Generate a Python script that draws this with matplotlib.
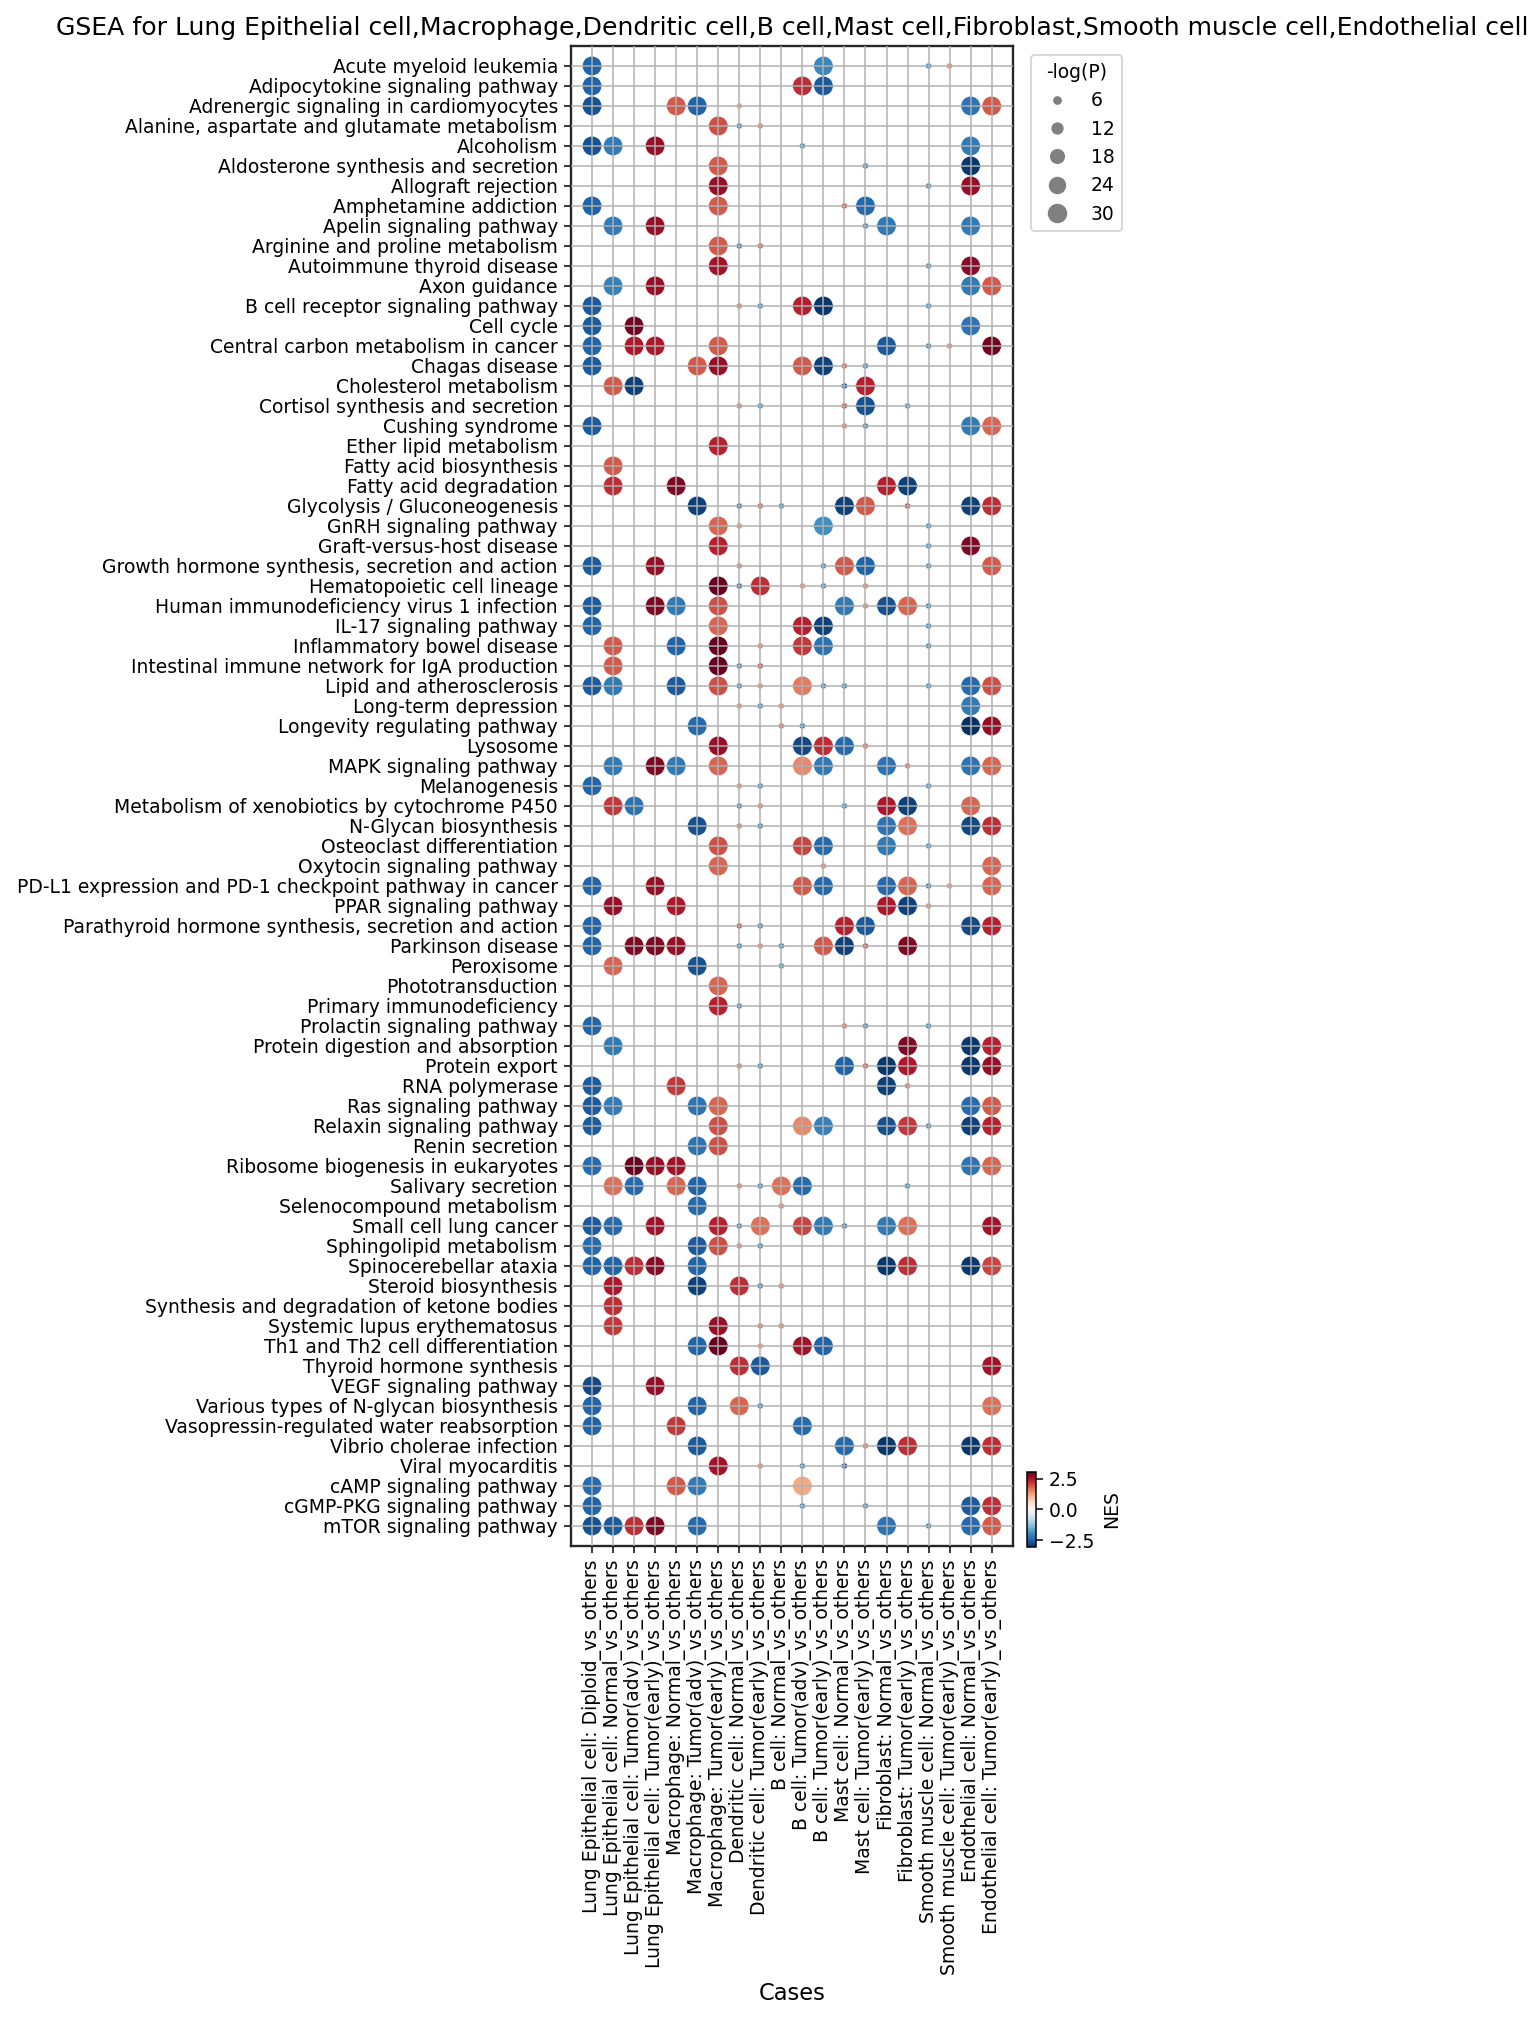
import matplotlib
matplotlib.use("Agg")
import numpy as np
import matplotlib.pyplot as plt
from matplotlib.lines import Line2D
from matplotlib.colors import Normalize
from matplotlib.cm import ScalarMappable

# ---- data -------------------------------------------------------------
CASES = [
    "Lung Epithelial cell: Diploid_vs_others",
    "Lung Epithelial cell: Normal_vs_others",
    "Lung Epithelial cell: Tumor(adv)_vs_others",
    "Lung Epithelial cell: Tumor(early)_vs_others",
    "Macrophage: Normal_vs_others",
    "Macrophage: Tumor(adv)_vs_others",
    "Macrophage: Tumor(early)_vs_others",
    "Dendritic cell: Normal_vs_others",
    "Dendritic cell: Tumor(early)_vs_others",
    "B cell: Normal_vs_others",
    "B cell: Tumor(adv)_vs_others",
    "B cell: Tumor(early)_vs_others",
    "Mast cell: Normal_vs_others",
    "Mast cell: Tumor(early)_vs_others",
    "Fibroblast: Normal_vs_others",
    "Fibroblast: Tumor(early)_vs_others",
    "Smooth muscle cell: Normal_vs_others",
    "Smooth muscle cell: Tumor(early)_vs_others",
    "Endothelial cell: Normal_vs_others",
    "Endothelial cell: Tumor(early)_vs_others",
]

PATHWAYS = [
    "Acute myeloid leukemia", "Adipocytokine signaling pathway",
    "Adrenergic signaling in cardiomyocytes",
    "Alanine, aspartate and glutamate metabolism", "Alcoholism",
    "Aldosterone synthesis and secretion", "Allograft rejection",
    "Amphetamine addiction", "Apelin signaling pathway",
    "Arginine and proline metabolism", "Autoimmune thyroid disease",
    "Axon guidance", "B cell receptor signaling pathway", "Cell cycle",
    "Central carbon metabolism in cancer", "Chagas disease",
    "Cholesterol metabolism", "Cortisol synthesis and secretion",
    "Cushing syndrome", "Ether lipid metabolism", "Fatty acid biosynthesis",
    "Fatty acid degradation", "Glycolysis / Gluconeogenesis",
    "GnRH signaling pathway", "Graft-versus-host disease",
    "Growth hormone synthesis, secretion and action",
    "Hematopoietic cell lineage", "Human immunodeficiency virus 1 infection",
    "IL-17 signaling pathway", "Inflammatory bowel disease",
    "Intestinal immune network for IgA production",
    "Lipid and atherosclerosis", "Long-term depression",
    "Longevity regulating pathway", "Lysosome", "MAPK signaling pathway",
    "Melanogenesis", "Metabolism of xenobiotics by cytochrome P450",
    "N-Glycan biosynthesis", "Osteoclast differentiation",
    "Oxytocin signaling pathway",
    "PD-L1 expression and PD-1 checkpoint pathway in cancer",
    "PPAR signaling pathway",
    "Parathyroid hormone synthesis, secretion and action",
    "Parkinson disease", "Peroxisome", "Phototransduction",
    "Primary immunodeficiency", "Prolactin signaling pathway",
    "Protein digestion and absorption", "Protein export", "RNA polymerase",
    "Ras signaling pathway", "Relaxin signaling pathway", "Renin secretion",
    "Ribosome biogenesis in eukaryotes", "Salivary secretion",
    "Selenocompound metabolism", "Small cell lung cancer",
    "Sphingolipid metabolism", "Spinocerebellar ataxia",
    "Steroid biosynthesis", "Synthesis and degradation of ketone bodies",
    "Systemic lupus erythematosus", "Th1 and Th2 cell differentiation",
    "Thyroid hormone synthesis", "VEGF signaling pathway",
    "Various types of N-glycan biosynthesis",
    "Vasopressin-regulated water reabsorption", "Vibrio cholerae infection",
    "Viral myocarditis", "cAMP signaling pathway",
    "cGMP-PKG signaling pathway", "mTOR signaling pathway",
]

# one entry per pathway: (case index, NES, -log(P))
POINTS = [
    [(0, -2.5, 30), (11, -2.0, 30), (16, -1.8, 3.0), (17, 1.4, 3.0)],
    [(0, -2.5, 30), (10, 2.3, 30), (11, -2.6, 30)],
    [(0, -2.7, 30), (4, 1.9, 30), (5, -2.5, 30), (7, 1.3, 3.0), (18, -2.3, 30), (19, 1.9, 30)],
    [(6, 2.0, 30), (7, -2.0, 3.0), (8, 1.5, 3.0)],
    [(0, -2.7, 30), (1, -2.2, 30), (3, 2.7, 30), (10, -1.8, 3.0), (18, -2.2, 30)],
    [(6, 1.9, 30), (13, -2.0, 3.0), (18, -3.0, 30)],
    [(6, 2.7, 30), (16, -1.8, 3.0), (18, 2.7, 30)],
    [(0, -2.5, 30), (6, 1.9, 30), (12, 1.9, 3.0), (13, -2.4, 30)],
    [(1, -2.2, 30), (3, 2.7, 30), (13, -2.0, 3.0), (14, -2.2, 30), (18, -2.2, 30)],
    [(6, 1.9, 30), (7, -2.2, 3.0), (8, 1.8, 3.0)],
    [(6, 2.6, 30), (16, -1.8, 3.0), (18, 2.8, 30)],
    [(1, -2.1, 30), (3, 2.7, 30), (18, -2.2, 30), (19, 1.9, 30)],
    [(0, -2.6, 30), (7, 1.5, 3.0), (8, -1.9, 3.0), (10, 2.4, 30), (11, -3.0, 30), (16, -1.8, 3.0)],
    [(0, -2.6, 30), (2, 3.0, 30), (18, -2.3, 30)],
    [(0, -2.5, 30), (2, 2.5, 30), (3, 2.5, 30), (6, 1.9, 30), (14, -2.6, 30), (16, -1.9, 3.0),
     (17, 1.4, 3.0), (19, 3.0, 30)],
    [(0, -2.6, 30), (5, 1.9, 30), (6, 2.7, 30), (10, 1.9, 30), (11, -2.9, 30), (12, 1.7, 3.0),
     (13, -2.0, 3.0)],
    [(1, 1.9, 30), (2, -2.9, 30), (12, -2.6, 3.0), (13, 2.4, 30)],
    [(7, 1.5, 3.0), (8, -1.8, 3.0), (12, 2.0, 3.0), (13, -2.7, 30), (15, -1.8, 3.0)],
    [(0, -2.6, 30), (12, 1.5, 3.0), (13, -2.0, 3.0), (18, -2.2, 30), (19, 1.8, 30)],
    [(6, 2.4, 30)],
    [(1, 1.9, 30)],
    [(1, 2.3, 30), (4, 2.9, 30), (14, 2.4, 30), (15, -2.9, 30)],
    [(5, -2.9, 30), (7, -2.2, 3.0), (8, 1.8, 3.0), (9, -1.9, 3.0), (12, -2.9, 30), (13, 1.9, 30),
     (15, 2.0, 3.0), (18, -2.9, 30), (19, 2.3, 30)],
    [(6, 1.8, 30), (7, 1.4, 3.0), (11, -1.9, 30), (16, -1.8, 3.0)],
    [(6, 2.4, 30), (16, -1.8, 3.0), (18, 2.9, 30)],
    [(0, -2.6, 30), (3, 2.7, 30), (7, 1.5, 3.0), (11, -1.9, 3.0), (12, 1.9, 30), (13, -2.5, 30),
     (16, -1.8, 3.0), (19, 1.9, 30)],
    [(6, 3.1, 30), (7, -2.4, 3.0), (8, 2.3, 30), (10, 1.4, 3.0), (11, -1.9, 3.0), (13, 1.5, 3.0)],
    [(0, -2.6, 30), (3, 2.9, 30), (4, -2.2, 30), (6, 2.0, 30), (12, -2.2, 30), (13, 1.5, 3.0),
     (14, -2.7, 30), (15, 1.8, 30), (16, -2.0, 3.0)],
    [(0, -2.5, 30), (6, 1.8, 30), (10, 2.4, 30), (11, -2.9, 30), (16, -1.9, 3.0)],
    [(1, 1.9, 30), (4, -2.5, 30), (6, 3.1, 30), (8, 1.5, 3.0), (10, 2.2, 30), (11, -2.3, 30),
     (16, -1.9, 3.0)],
    [(1, 1.9, 30), (6, 3.1, 30), (7, -2.0, 3.0), (8, 2.0, 3.0)],
    [(0, -2.6, 30), (1, -2.2, 30), (4, -2.6, 30), (6, 2.0, 30), (7, -1.9, 3.0), (8, 1.3, 3.0),
     (10, 1.6, 30), (11, -2.0, 3.0), (12, -2.0, 3.0), (16, -1.8, 3.0), (18, -2.4, 30), (19, 2.0, 30)],
    [(7, 1.4, 3.0), (8, -1.9, 3.0), (9, 1.4, 3.0), (18, -2.2, 30)],
    [(5, -2.4, 30), (9, 1.6, 3.0), (10, -2.1, 3.0), (18, -3.1, 30), (19, 2.7, 30)],
    [(6, 2.7, 30), (10, -2.8, 30), (11, 2.3, 30), (12, -2.4, 30), (13, 1.6, 3.0)],
    [(1, -2.2, 30), (3, 2.9, 30), (4, -2.2, 30), (6, 1.8, 30), (10, 1.5, 30), (11, -2.2, 30),
     (14, -2.3, 30), (15, 1.6, 3.0), (18, -2.3, 30), (19, 1.8, 30)],
    [(0, -2.5, 30), (7, 1.4, 3.0), (8, -1.9, 3.0), (16, -1.8, 3.0)],
    [(1, 2.2, 30), (2, -2.3, 30), (7, -2.0, 3.0), (8, 1.5, 3.0), (12, -2.0, 3.0), (14, 2.5, 30),
     (15, -2.9, 30), (18, 1.8, 30)],
    [(5, -2.7, 30), (7, 1.5, 3.0), (8, -2.0, 3.0), (14, -2.3, 30), (15, 1.7, 30), (18, -2.8, 30),
     (19, 2.3, 30)],
    [(6, 2.0, 30), (10, 2.1, 30), (11, -2.4, 30), (14, -2.2, 30), (16, -1.8, 3.0)],
    [(6, 1.8, 30), (11, 1.5, 3.0), (19, 1.8, 30)],
    [(0, -2.5, 30), (3, 2.7, 30), (10, 1.9, 30), (11, -2.4, 30), (14, -2.4, 30), (15, 1.8, 30),
     (16, -2.1, 3.0), (17, 1.4, 3.0), (19, 1.8, 30)],
    [(1, 2.7, 30), (4, 2.5, 30), (14, 2.5, 30), (15, -2.9, 30), (16, 1.5, 3.0)],
    [(0, -2.5, 30), (7, 2.0, 3.0), (8, -2.0, 3.0), (12, 2.4, 30), (13, -2.6, 30), (18, -2.8, 30),
     (19, 2.4, 30)],
    [(0, -2.5, 30), (2, 2.9, 30), (3, 2.9, 30), (4, 2.7, 30), (7, -2.0, 3.0), (8, 1.4, 3.0),
     (9, -2.0, 3.0), (11, 1.9, 30), (12, -2.9, 30), (13, 2.0, 3.0), (15, 2.9, 30)],
    [(1, 1.8, 30), (5, -2.7, 30), (9, -1.8, 3.0)],
    [(6, 1.8, 30)],
    [(6, 2.4, 30), (7, -2.0, 3.0)],
    [(0, -2.5, 30), (12, 1.6, 3.0), (13, -1.9, 3.0), (16, -1.9, 3.0)],
    [(1, -2.2, 30), (15, 2.9, 30), (18, -3.0, 30), (19, 2.4, 30)],
    [(7, 1.5, 3.0), (8, -2.0, 3.0), (12, -2.5, 30), (13, 1.9, 3.0), (14, -3.0, 30), (15, 2.5, 30),
     (18, -3.0, 30), (19, 2.7, 30)],
    [(0, -2.6, 30), (4, 2.2, 30), (14, -2.9, 30), (15, 1.6, 3.0)],
    [(0, -2.6, 30), (1, -2.2, 30), (5, -2.3, 30), (6, 1.8, 30), (18, -2.4, 30), (19, 1.9, 30)],
    [(0, -2.6, 30), (6, 2.0, 30), (10, 1.5, 30), (11, -2.1, 30), (14, -2.7, 30), (15, 2.2, 30),
     (16, -1.9, 3.0), (18, -2.9, 30), (19, 2.4, 30)],
    [(5, -2.3, 30), (6, 2.0, 30)],
    [(0, -2.4, 30), (2, 3.1, 30), (3, 2.7, 30), (4, 2.6, 30), (18, -2.3, 30), (19, 1.8, 30)],
    [(1, 1.7, 30), (2, -2.4, 30), (4, 1.8, 30), (5, -2.5, 30), (7, 1.6, 3.0), (8, -2.0, 3.0),
     (9, 1.7, 30), (10, -2.4, 30), (15, -2.0, 3.0)],
    [(5, -2.4, 30), (9, 1.5, 3.0)],
    [(0, -2.6, 30), (1, -2.4, 30), (3, 2.6, 30), (6, 2.4, 30), (7, -2.1, 3.0), (8, 1.7, 30),
     (10, 2.1, 30), (11, -2.2, 30), (12, -2.1, 3.0), (14, -2.2, 30), (15, 1.7, 30), (19, 2.6, 30)],
    [(0, -2.4, 30), (5, -2.6, 30), (6, 2.0, 30), (7, 1.5, 3.0), (8, -2.1, 3.0)],
    [(0, -2.5, 30), (1, -2.5, 30), (2, 2.3, 30), (3, 2.8, 30), (5, -2.5, 30), (14, -3.0, 30),
     (15, 2.3, 30), (18, -3.0, 30), (19, 2.1, 30)],
    [(1, 2.5, 30), (5, -2.9, 30), (7, 2.3, 30), (8, -2.1, 3.0), (9, 1.5, 3.0)],
    [(1, 2.3, 30)],
    [(1, 2.2, 30), (6, 2.7, 30), (8, 1.6, 3.0), (9, 1.5, 3.0)],
    [(5, -2.5, 30), (6, 3.1, 30), (8, 1.3, 3.0), (10, 2.6, 30), (11, -2.5, 30)],
    [(7, 2.3, 30), (8, -2.6, 30), (19, 2.6, 30)],
    [(0, -2.8, 30), (3, 2.7, 30)],
    [(0, -2.5, 30), (5, -2.5, 30), (7, 1.8, 30), (8, -2.1, 3.0), (19, 1.7, 30)],
    [(0, -2.5, 30), (4, 2.2, 30), (10, -2.4, 30)],
    [(5, -2.6, 30), (12, -2.4, 30), (13, 1.6, 3.0), (14, -3.0, 30), (15, 2.3, 30), (18, -3.0, 30),
     (19, 2.3, 30)],
    [(6, 2.6, 30), (8, 1.5, 3.0), (10, -2.0, 3.0), (12, -2.6, 3.0)],
    [(0, -2.4, 30), (4, 1.9, 30), (5, -2.2, 30), (10, 1.2, 30)],
    [(0, -2.5, 30), (10, -2.0, 3.0), (13, -1.9, 3.0), (18, -2.6, 30), (19, 2.3, 30)],
    [(0, -2.7, 30), (1, -2.6, 30), (2, 2.3, 30), (3, 2.9, 30), (5, -2.4, 30), (14, -2.3, 30),
     (16, -2.0, 3.0), (18, -2.4, 30), (19, 1.9, 30)],
]

SIZE_TICKS = [6, 12, 18, 24, 30]
NES_TICKS = [-2.5, 0.0, 2.5]
NES_LIM = 3.1
SIZE_SCALE = 3.6   # marker area (pt^2) per unit of -log(P)

TITLE = ("GSEA for Lung Epithelial cell,Macrophage,Dendritic cell,B cell,"
         "Mast cell,Fibroblast,Smooth muscle cell,Endothelial cell")

# ---- figure -----------------------------------------------------------
DPI = 135
fig = plt.figure(figsize=(1540 / DPI, 2024 / DPI), dpi=DPI)
ax = fig.add_axes([0.3708, 0.2362, 0.2868, 0.7411])

xs, ys, nes, logp = [], [], [], []
for row, pts in enumerate(POINTS):
    for col, v, p in pts:
        xs.append(col)
        ys.append(row)
        nes.append(v)
        logp.append(p)

norm = Normalize(vmin=-NES_LIM, vmax=NES_LIM)
ax.scatter(xs, ys, c=nes, s=np.array(logp) * SIZE_SCALE, cmap="RdBu_r",
           norm=norm, edgecolors="white", linewidths=0.3, zorder=1)

ax.set_xticks(range(len(CASES)))
ax.set_xticklabels(CASES, rotation=90)
ax.set_yticks(range(len(PATHWAYS)))
ax.set_yticklabels(PATHWAYS)
ax.set_xlim(-1, len(CASES))
ax.set_ylim(len(PATHWAYS), -1)
ax.tick_params(labelsize=10)

ax.grid(True, color="#b0b0b0", linewidth=0.8)
ax.set_axisbelow(False)
for sp in ax.spines.values():
    sp.set_linewidth(1.25)
    sp.set_color("#262626")

ax.set_title(TITLE, fontsize=13.4)
ax.set_xlabel("Cases", fontsize=12)

# size legend, same area mapping as the scatter
handles = [Line2D([], [], ls="", marker="o", color="gray", markeredgewidth=0,
                  markersize=np.sqrt(v * SIZE_SCALE)) for v in SIZE_TICKS]
ax.legend(handles, [str(v) for v in SIZE_TICKS], title="-log(P)",
          loc="upper left", bbox_to_anchor=(1.02, 1), fontsize=10)

# colour bar
cax = fig.add_axes([0.6669, 0.2355, 0.0057, 0.0374])
cb = fig.colorbar(ScalarMappable(norm=norm, cmap="RdBu_r"), cax=cax, ticks=NES_TICKS)
cb.set_label("NES")
cb.ax.tick_params(labelsize=10)

fig.savefig("out.png", dpi=DPI)
